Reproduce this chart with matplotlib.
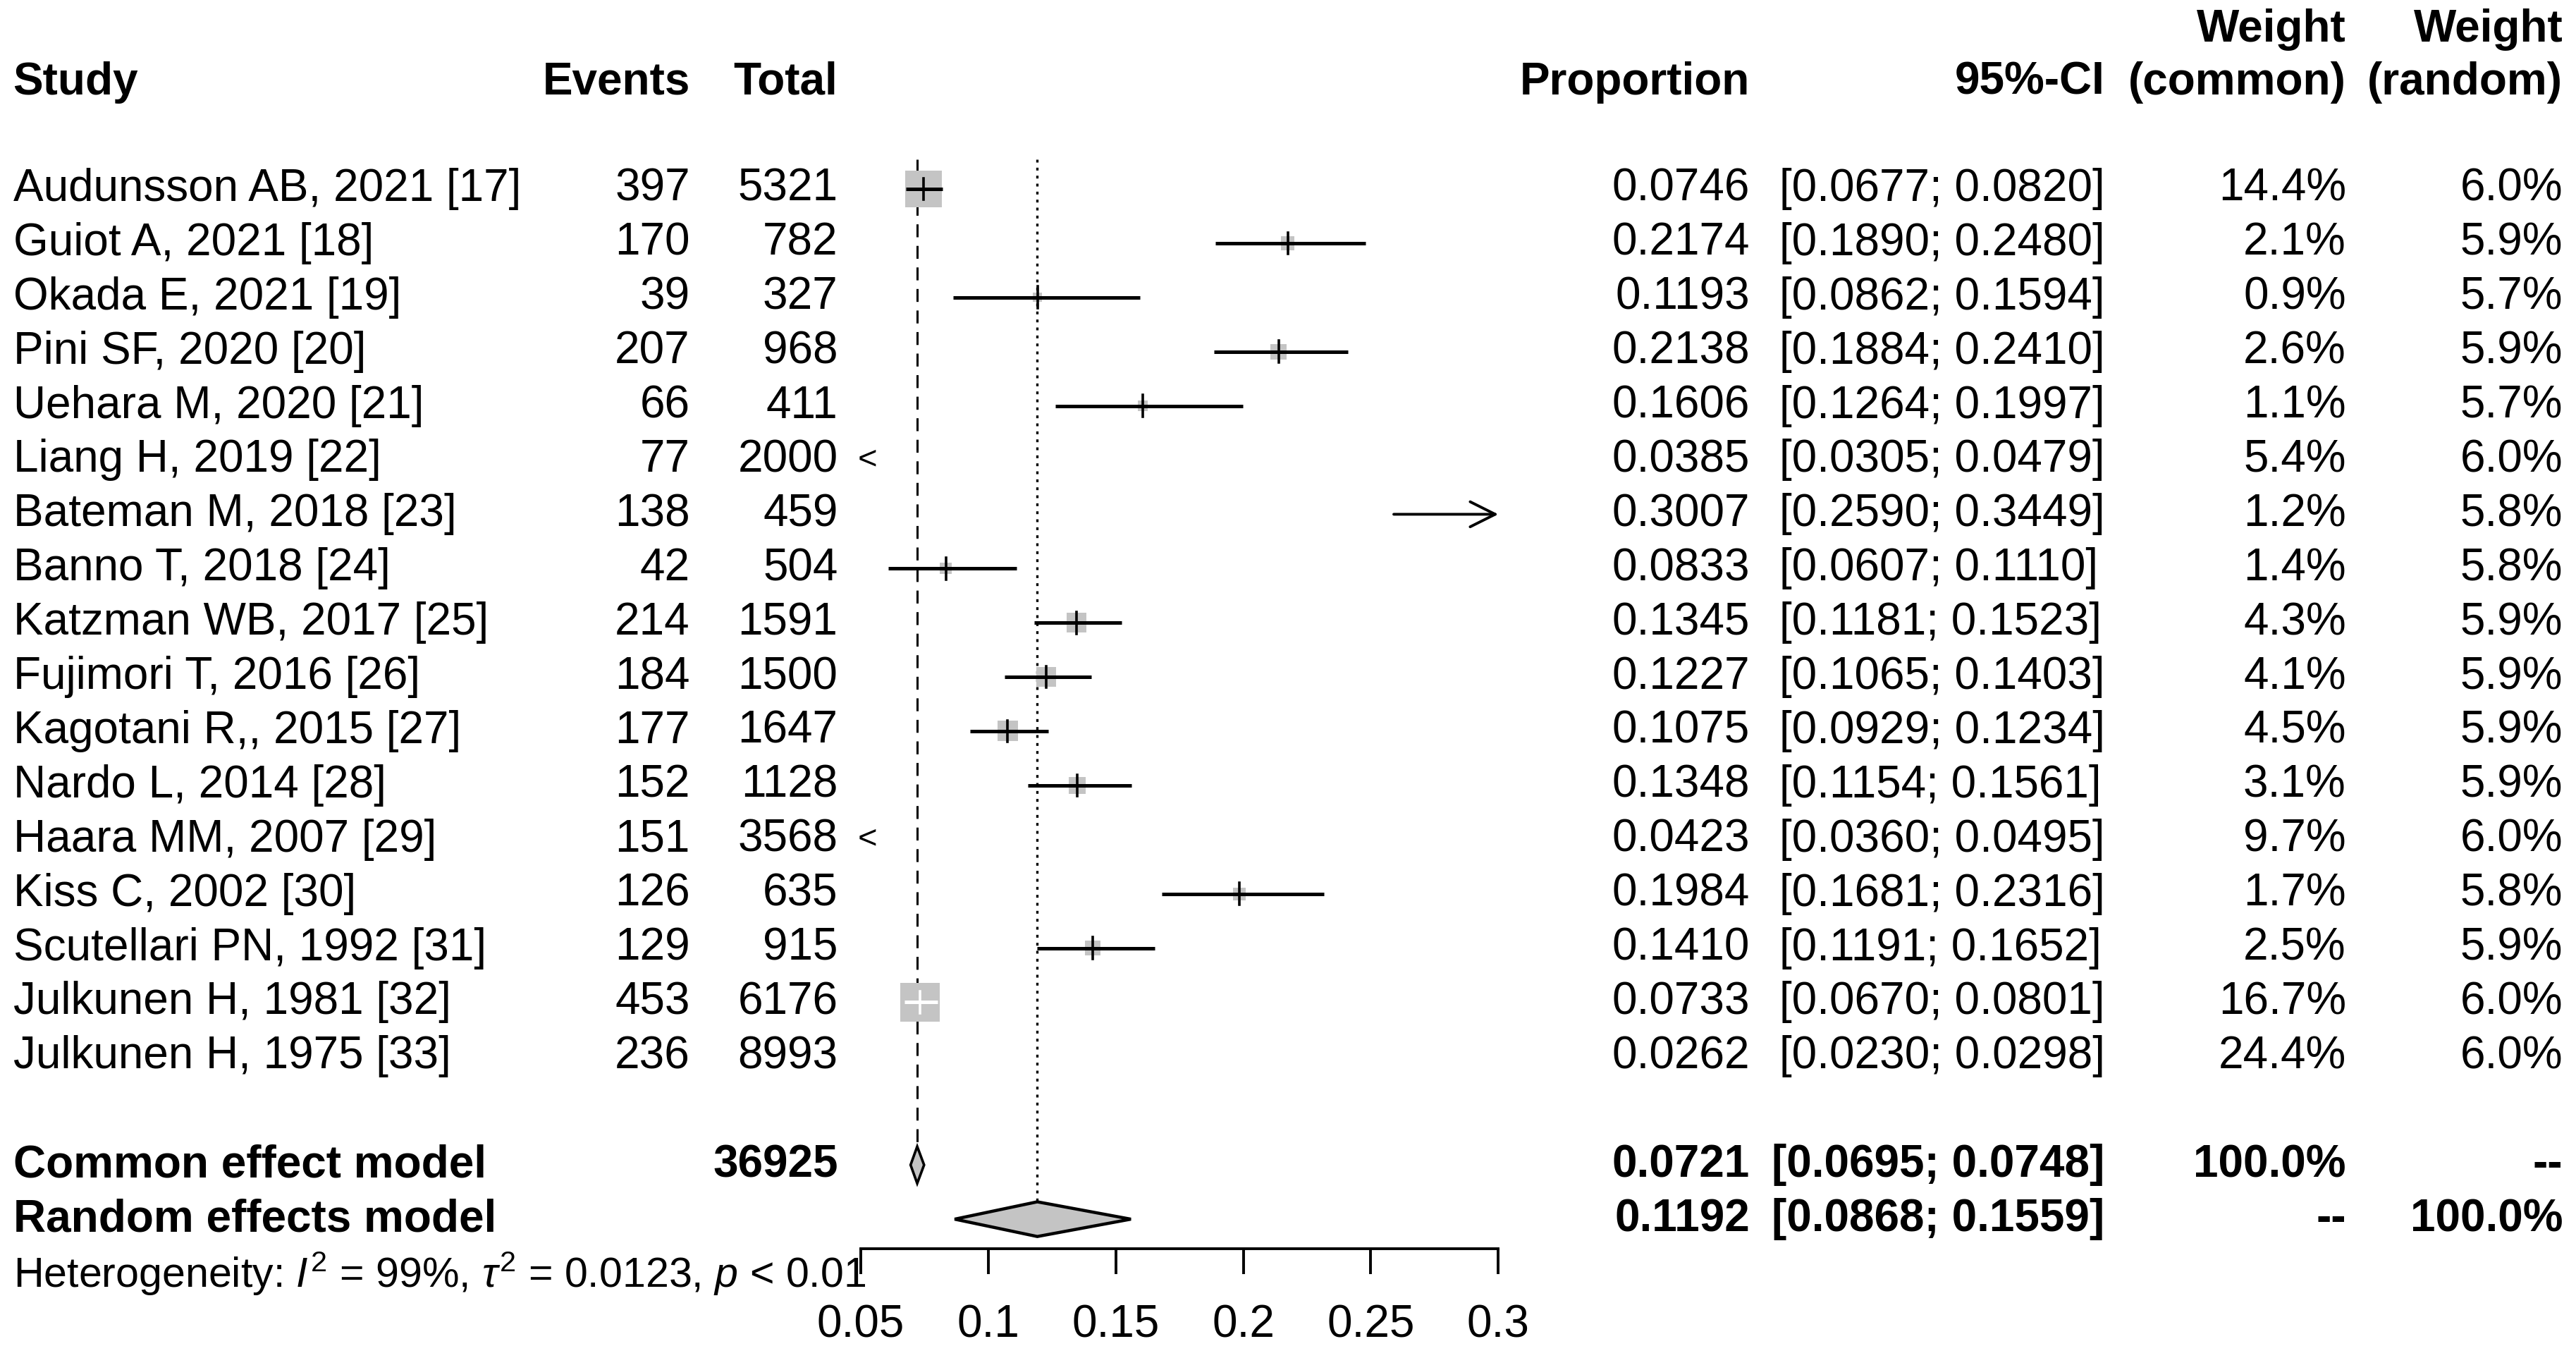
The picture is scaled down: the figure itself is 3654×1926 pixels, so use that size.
import matplotlib
matplotlib.use("Agg")
import matplotlib.pyplot as plt
from matplotlib.patches import Rectangle, Polygon
import numpy as np

plt.rcParams["font.family"] = ["Liberation Sans", "DejaVu Sans"]
plt.rcParams["mathtext.fontset"] = "custom"
plt.rcParams["mathtext.rm"] = "Liberation Sans"
plt.rcParams["mathtext.it"] = "Liberation Sans:italic"

# data
studies = ["Audunsson AB, 2021 [17]", "Guiot A, 2021 [18]", "Okada E, 2021 [19]",
           "Pini SF, 2020 [20]", "Uehara M, 2020 [21]", "Liang H, 2019 [22]",
           "Bateman M, 2018 [23]", "Banno T, 2018 [24]", "Katzman WB, 2017 [25]",
           "Fujimori T, 2016 [26]", "Kagotani R,, 2015 [27]", "Nardo L, 2014 [28]",
           "Haara MM, 2007 [29]", "Kiss C, 2002 [30]", "Scutellari PN, 1992 [31]",
           "Julkunen H, 1981 [32]", "Julkunen H, 1975 [33]"]
events = [397, 170, 39, 207, 66, 77, 138, 42, 214, 184, 177, 152, 151, 126, 129, 453, 236]
totals = [5321, 782, 327, 968, 411, 2000, 459, 504, 1591, 1500, 1647, 1128, 3568, 635, 915, 6176, 8993]
prop = [0.0746, 0.2174, 0.1193, 0.2138, 0.1606, 0.0385, 0.3007, 0.0833, 0.1345,
        0.1227, 0.1075, 0.1348, 0.0423, 0.1984, 0.1410, 0.0733, 0.0262]
ci_low = [0.0677, 0.1890, 0.0862, 0.1884, 0.1264, 0.0305, 0.2590, 0.0607, 0.1181,
          0.1065, 0.0929, 0.1154, 0.0360, 0.1681, 0.1191, 0.0670, 0.0230]
ci_high = [0.0820, 0.2480, 0.1594, 0.2410, 0.1997, 0.0479, 0.3449, 0.1110, 0.1523,
           0.1403, 0.1234, 0.1561, 0.0495, 0.2316, 0.1652, 0.0801, 0.0298]
w_common = [14.4, 2.1, 0.9, 2.6, 1.1, 5.4, 1.2, 1.4, 4.3, 4.1, 4.5, 3.1, 9.7, 1.7, 2.5, 16.7, 24.4]
w_random = [6.0, 5.9, 5.7, 5.9, 5.7, 6.0, 5.8, 5.8, 5.9, 5.9, 5.9, 5.9, 6.0, 5.8, 5.9, 6.0, 6.0]
left_marked = ["Liang H, 2019 [22]", "Haara MM, 2007 [29]"]

total_n = 36925
common_est, common_lo, common_hi = 0.0721, 0.0695, 0.0748
random_est, random_lo, random_hi = 0.1192, 0.0868, 0.1559
xticks = [0.05, 0.1, 0.15, 0.2, 0.25, 0.3]

# layout: reference measured in a 1568 px wide frame, rows 33 px apart
W, H = 1568.0, 826.5
row0, rowh = 115.0, 33.0
ylo, yhi = (H - row0) / rowh, -row0 / rowh
fs = 23

fig = plt.figure(figsize=(18.27, 9.63), dpi=200)
tab = fig.add_axes([0, 0, 1, 1])
tab.set_xlim(0, W)
tab.set_ylim(ylo, yhi)
tab.axis("off")

x0, x1 = 524.0, 912.0
xmin, xmax = 0.05, 0.3
ax = fig.add_axes([x0 / W, 0, (x1 - x0) / W, 1])
ax.set_xlim(xmin, xmax)
ax.set_ylim(ylo, yhi)
ax.patch.set_alpha(0)
for s in ["top", "left", "right"]:
    ax.spines[s].set_visible(False)
ax.spines["bottom"].set_position(("data", 19.55))
ax.spines["bottom"].set_linewidth(1.4)
ax.spines["bottom"].set_bounds(xmin, xmax)
ax.set_yticks([])
ax.set_xticks(xticks)
ax.set_xticklabels([f"{t:g}" for t in xticks])
ax.tick_params(axis="x", direction="out", length=13, width=1.4, pad=15, labelsize=fs)

# header
def txt(x, y, s, ha="left", bold=False, size=fs):
    tab.text(x, y, s, ha=ha, va="center", fontsize=size,
             fontweight="bold" if bold else "normal")

hy = (50 - row0) / rowh
hy2 = (18 - row0) / rowh
txt(8, hy, "Study", bold=True)
txt(420, hy, "Events", "right", True)
txt(510, hy, "Total", "right", True)
txt(1065, hy, "Proportion", "right", True)
txt(1281, hy, "95%-CI", "right", True)
txt(1428, hy2, "Weight", "right", True)
txt(1428, hy, "(common)", "right", True)
txt(1560, hy2, "Weight", "right", True)
txt(1560, hy, "(random)", "right", True)

ppx = (xmax - xmin) / (x1 - x0)  # proportion units per px
for i, name in enumerate(studies):
    txt(8, i, name)
    txt(420, i, str(events[i]), "right")
    txt(510, i, str(totals[i]), "right")
    txt(1065, i, f"{prop[i]:.4f}", "right")
    txt(1083, i, f"[{ci_low[i]:.4f}; {ci_high[i]:.4f}]", "left")
    txt(1428, i, f"{w_common[i]:.1f}%", "right")
    txt(1560, i, f"{w_random[i]:.1f}%", "right")

    side = 29 * np.sqrt(w_common[i] / max(w_common))
    in_range = xmin <= prop[i] <= xmax
    if in_range:
        ax.add_patch(Rectangle((prop[i] - side * ppx / 2, i - side / rowh / 2),
                               side * ppx, side / rowh, facecolor="#c4c4c4",
                               edgecolor="none", zorder=2))
    inside = ci_low[i] > prop[i] - side * ppx / 2 and ci_high[i] < prop[i] + side * ppx / 2
    col = "white" if inside else "black"
    if ci_high[i] > xmax:
        ax.annotate("", xy=(xmax, i), xytext=(ci_low[i], i), annotation_clip=False,
                    arrowprops=dict(arrowstyle="->", lw=1.4, color="black",
                                    mutation_scale=32, shrinkA=0, shrinkB=0),
                    zorder=3)
    elif in_range:
        ax.plot([ci_low[i], ci_high[i]], [i, i], color=col, lw=1.8, zorder=3,
                solid_capstyle="butt")
        ax.plot([prop[i], prop[i]], [i - 0.2, i + 0.2], color=col, lw=1.3, zorder=3)
    if name in left_marked:
        tab.text(x0 + 4, i, "<", ha="center", va="center", fontsize=fs - 6)

# summary rows
rc, rr = 18, 19
txt(8, rc, "Common effect model", bold=True)
txt(8, rr, "Random effects model", bold=True)
txt(510, rc, str(total_n), "right", True)
txt(1065, rc, f"{common_est:.4f}", "right", True)
txt(1281, rc, f"[{common_lo:.4f}; {common_hi:.4f}]", "right", True)
txt(1428, rc, "100.0%", "right", True)
txt(1560, rc, "--", "right", True)
txt(1065, rr, f"{random_est:.4f}", "right", True)
txt(1281, rr, f"[{random_lo:.4f}; {random_hi:.4f}]", "right", True)
txt(1428, rr, "--", "right", True)
txt(1560, rr, "100.0%", "right", True)
tab.text(8, 20, r"Heterogeneity: $I^2$ = 99%, $\tau^2$ = 0.0123, $p$ < 0.01",
         ha="left", va="center", fontsize=21.3)

ax.add_patch(Polygon([[common_lo, rc], [common_est, rc - 0.34], [common_hi, rc],
                      [common_est, rc + 0.34]], closed=True, facecolor="#c4c4c4",
                     edgecolor="black", lw=1.3, zorder=3))
ax.add_patch(Polygon([[random_lo, rr], [random_est, rr - 0.32], [random_hi, rr],
                      [random_est, rr + 0.32]], closed=True, facecolor="#c4c4c4",
                     edgecolor="black", lw=1.6, zorder=3))

ax.plot([common_est, common_est], [-0.55, rc - 0.36], color="black", lw=1.1,
        linestyle=(0, (6, 4)), zorder=1)
ax.plot([random_est, random_est], [-0.55, rr - 0.34], color="black", lw=1.2,
        linestyle=(0, (1.2, 2.2)), zorder=1)

fig.savefig("out.png", dpi=200)
